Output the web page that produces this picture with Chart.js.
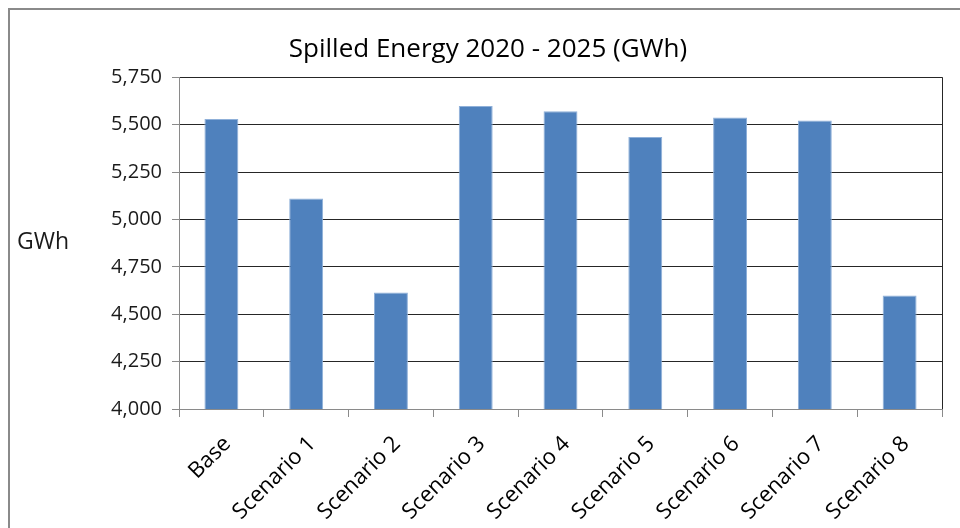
<!DOCTYPE html>
<html>
<head>
<meta charset="utf-8">
<script src="https://cdn.jsdelivr.net/npm/chart.js@4/dist/chart.umd.min.js"></script>
<style>
  html, body { margin: 0; padding: 0; background: #fff; overflow: hidden; }
  #wrap { position: relative; width: 960px; height: 528px; }
  #frame { position: absolute; left: 8px; top: 8px; width: 1200px; height: 800px;
           border: 2px solid #8a8a8a; box-sizing: border-box; pointer-events: none; }
  canvas { position: absolute; left: 0; top: 0; }
</style>
</head>
<body>
<div id="wrap">
  <canvas id="chart" width="960" height="528"></canvas>
  <div id="frame"></div>
</div>
<script>
// Spilled energy per scenario, 2020-2025, in GWh
const categories = ['Base', 'Scenario 1', 'Scenario 2', 'Scenario 3', 'Scenario 4',
                    'Scenario 5', 'Scenario 6', 'Scenario 7', 'Scenario 8'];
const spilledGWh = [5530, 5110, 4615, 5598, 5570, 5435, 5537, 5522, 4598];
const yTicks = [4000, 4250, 4500, 4750, 5000, 5250, 5500, 5750];

const FONT = "'Open Sans', 'Noto Sans', sans-serif";

// Draws the right edge of the plot box and the horizontal unit label
const plotFrame = {
  id: 'plotFrame',
  afterDraw(chart) {
    const { ctx, chartArea: a } = chart;
    ctx.save();
    ctx.strokeStyle = '#262626';
    ctx.lineWidth = 1;
    ctx.beginPath();
    ctx.moveTo(Math.round(a.right) + 0.5, a.top);
    ctx.lineTo(Math.round(a.right) + 0.5, a.bottom);
    ctx.stroke();
    ctx.strokeStyle = '#8a8a8a';
    ctx.beginPath();
    ctx.moveTo(Math.round(a.right) + 0.5, a.bottom);
    ctx.lineTo(Math.round(a.right) + 0.5, a.bottom + 8);
    ctx.stroke();
    ctx.fillStyle = '#1a1a1a';
    ctx.font = '23px ' + FONT;
    ctx.textAlign = 'left';
    ctx.textBaseline = 'alphabetic';
    ctx.fillText('GWh', 17, 249);
    ctx.restore();
  }
};

new Chart(document.getElementById('chart'), {
  type: 'bar',
  data: {
    labels: categories,
    datasets: [{
      data: spilledGWh,
      backgroundColor: '#4f81bd',
      borderColor: '#8fb0d9',
      borderWidth: 1,
      categoryPercentage: 1.0,
      barPercentage: 0.4
    }]
  },
  options: {
    responsive: false,
    animation: false,
    layout: { padding: { left: 34, right: 18, top: 10, bottom: 0 } },
    plugins: {
      legend: { display: false },
      tooltip: { enabled: false },
      title: {
        display: true,
        text: 'Spilled Energy 2020 - 2025 (GWh)',
        color: '#000',
        font: { family: FONT, size: 26, weight: 'normal', lineHeight: 1.2 },
        padding: { top: 24, bottom: 12 }
      }
    },
    scales: {
      x: {
        grid: {
          offset: true,
          drawOnChartArea: false,
          drawTicks: true,
          tickLength: 8,
          color: '#8a8a8a'
        },
        border: { color: '#8a8a8a', width: 1 },
        ticks: {
          color: '#000',
          font: { family: FONT, size: 22 },
          minRotation: 45,
          maxRotation: 45,
          padding: 14,
          labelOffset: 6
        },
        afterFit(scale) { scale.height = 119; }
      },
      y: {
        min: 4000,
        max: 5750,
        grid: {
          color: '#262626',
          tickColor: '#8a8a8a',
          tickLength: 7
        },
        border: { color: '#8a8a8a', width: 1 },
        afterBuildTicks(scale) { scale.ticks = yTicks.map(v => ({ value: v })); },
        ticks: {
          color: '#1a1a1a',
          font: { family: FONT, size: 20 },
          padding: 10,
          callback: v => v.toLocaleString('en-US')
        },
        afterFit(scale) { scale.width = 145; }
      }
    }
  },
  plugins: [plotFrame]
});
</script>
</body>
</html>
